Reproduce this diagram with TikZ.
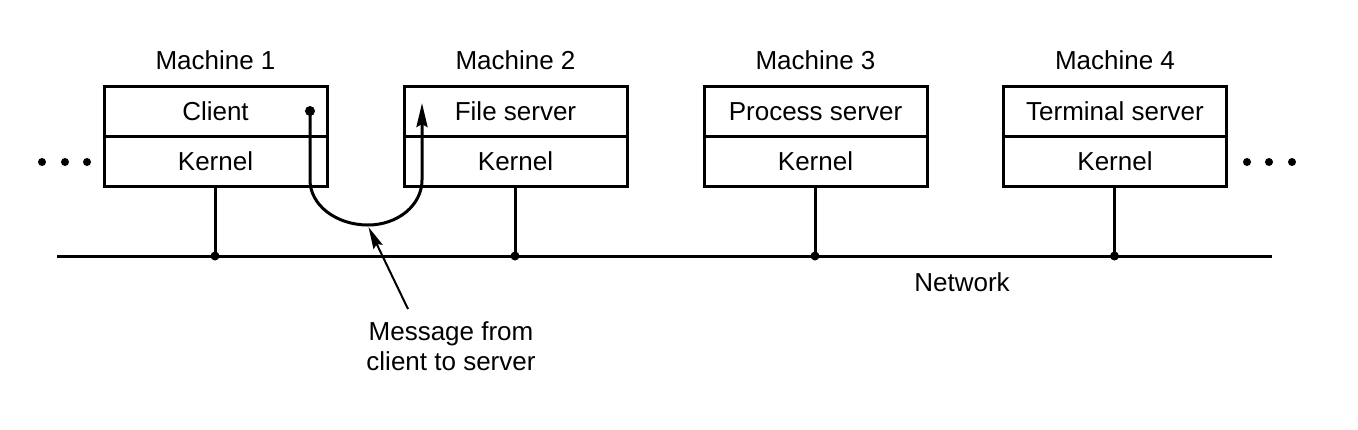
\documentclass[tikz,border=0pt]{standalone}
\usepackage{fontspec}
\setmainfont{Liberation Sans}
\usetikzlibrary{arrows.meta}
\begin{document}
\begin{tikzpicture}[x=0.5pt,y=-0.5pt,
  every node/.style={font=\fontsize{13}{14}\selectfont},
  layer/.style={draw,line width=1.5pt,rectangle,inner sep=0pt,minimum width=111.5pt,minimum height=25pt},
  lbl/.style={inner sep=0pt},
  wire/.style={line width=1.5pt},
  jdot/.style={fill=black,circle,inner sep=0pt,minimum size=4.5pt},
  edot/.style={fill=black,circle,inner sep=0pt,minimum size=4pt}]
\useasboundingbox (0,0) rectangle (1358,429);
% machines
\foreach \i/\t [count=\k] in {215.5/Client,515.5/File server,815.5/Process server,1115/Terminal server}{
  \node[layer] (top\k) at (\i,111.7) {\t};
  \node[layer] (bot\k) at (\i,161.7) {Kernel};
  \node[lbl] (mach\k) at (\i,60) {Machine \k};
  \node[jdot] (j\k) at (\i-0.5,256) {};
  \draw[wire] (bot\k.south -| j\k) -- (j\k.center);
}
% network
\coordinate (netL) at (57,256);
\coordinate (netR) at (1272,256);
\draw[wire] (netL) -- (netR);
\node[lbl] (net) at (962,282) {Network};
% ellipsis dots
\node[edot] (dl1) at (42,162) {};
\node[edot] (dl2) at (65,162) {};
\node[edot] (dl3) at (87,162) {};
\node[edot] (dr1) at (1247,162) {};
\node[edot] (dr2) at (1269,162) {};
\node[edot] (dr3) at (1292,162) {};
% message path
\node[fill=black,circle,inner sep=0pt,minimum size=5pt] (cdot) at (310,111) {};
\coordinate (ftip) at (422,103);
\draw[wire,-{Stealth[length=12pt,width=5.5pt,inset=1.5pt]}]
  (cdot.center) -- (310,180) .. controls (310,205) and (336,225) .. (368,225)
  .. controls (398,225) and (422,205) .. (422,180) -- (ftip);
% label
\node[lbl,align=center] (msg) at (451,346) {Message from\\[1pt]client to server};
\coordinate (mtail) at (408,309);
\coordinate (mtip) at (368.5,227);
\draw[line width=1pt,-{Stealth[length=11pt,width=5pt,inset=1.5pt]}] (mtail) -- (mtip);
\end{tikzpicture}
\end{document}
